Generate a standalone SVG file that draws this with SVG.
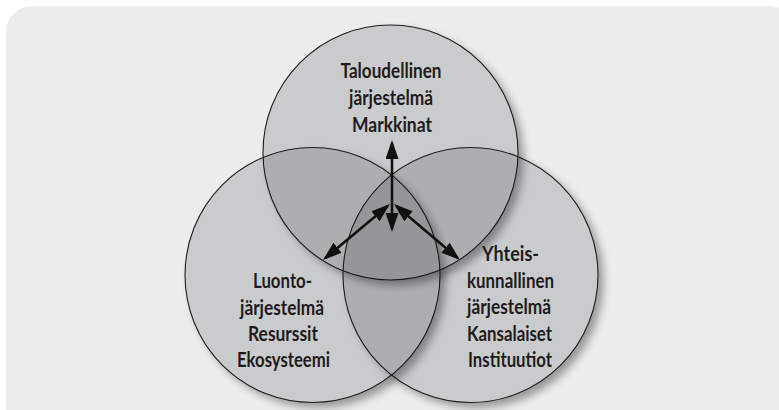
<svg xmlns="http://www.w3.org/2000/svg" width="779" height="410" viewBox="0 0 779 410">
  <style>
    .ring { fill: #0a0c14; fill-opacity: 0.15; stroke: #1d1d1f; stroke-width: 1.1; }
    .shade { fill: #000; fill-opacity: 0.36; filter: url(#soft); }
    .label { font-family: Lato, "Open Sans", "Liberation Sans", sans-serif; font-weight: bold; font-size: 20px; fill: #1f1b1c; text-anchor: middle; }
    .link { stroke: #111; stroke-width: 2.6; fill: none; marker-start: url(#head); marker-end: url(#head); }
  </style>
  <defs>
    <filter id="soft" x="-20%" y="-20%" width="140%" height="140%">
      <feGaussianBlur stdDeviation="4"/>
    </filter>
    <marker id="head" markerUnits="userSpaceOnUse" markerWidth="20" markerHeight="14" refX="16" refY="6.5" orient="auto-start-reverse">
      <path d="M0,0 L19,6.5 L0,13 z" fill="#111"/>
    </marker>
    <!-- each shadow is kept outside the disc that casts it -->
    <mask id="outTop" maskUnits="userSpaceOnUse" x="0" y="0" width="779" height="410">
      <rect width="779" height="410" fill="#fff"/>
      <circle cx="390.5" cy="152.5" r="127.5" fill="#000"/>
    </mask>
    <mask id="outLeft" maskUnits="userSpaceOnUse" x="0" y="0" width="779" height="410">
      <rect width="779" height="410" fill="#fff"/>
      <circle cx="312.5" cy="275" r="127.5" fill="#000"/>
    </mask>
    <mask id="outRight" maskUnits="userSpaceOnUse" x="0" y="0" width="779" height="410">
      <rect width="779" height="410" fill="#fff"/>
      <circle cx="470.5" cy="275" r="127.5" fill="#000"/>
    </mask>
  </defs>

  <!-- page and panel -->
  <rect width="779" height="410" fill="#fff"/>
  <rect x="6" y="6" width="790" height="430" rx="26" ry="26" fill="#ededed"/>

  <!-- drop shadows -->
  <g id="shadows">
    <circle class="shade" cx="396" cy="158" r="127.5" mask="url(#outTop)"/>
    <circle class="shade" cx="318" cy="280.5" r="127.5" mask="url(#outLeft)"/>
    <circle class="shade" cx="476" cy="280.5" r="127.5" mask="url(#outRight)"/>
  </g>

  <g id="economy">
    <circle class="ring" cx="390.5" cy="152.5" r="127.5"/>
    <text class="label" x="391" y="78" textLength="101" lengthAdjust="spacingAndGlyphs">Taloudellinen</text>
    <text class="label" x="391" y="105" textLength="84" lengthAdjust="spacingAndGlyphs">järjestelmä</text>
    <text class="label" x="392" y="132" textLength="80" lengthAdjust="spacingAndGlyphs">Markkinat</text>
  </g>

  <g id="nature">
    <circle class="ring" cx="312.5" cy="275" r="127.5"/>
    <text class="label" x="282.5" y="288" textLength="59" lengthAdjust="spacingAndGlyphs">Luonto-</text>
    <text class="label" x="282" y="315" textLength="84" lengthAdjust="spacingAndGlyphs">järjestelmä</text>
    <text class="label" x="283" y="341" textLength="70" lengthAdjust="spacingAndGlyphs">Resurssit</text>
    <text class="label" x="283.5" y="367" textLength="93" lengthAdjust="spacingAndGlyphs">Ekosysteemi</text>
  </g>

  <g id="society">
    <circle class="ring" cx="470.5" cy="275" r="127.5"/>
    <text class="label" x="510.5" y="261" textLength="57" lengthAdjust="spacingAndGlyphs">Yhteis-</text>
    <text class="label" x="510.5" y="287.5" textLength="87" lengthAdjust="spacingAndGlyphs">kunnallinen</text>
    <text class="label" x="509" y="314" textLength="84" lengthAdjust="spacingAndGlyphs">järjestelmä</text>
    <text class="label" x="509.5" y="340.5" textLength="85" lengthAdjust="spacingAndGlyphs">Kansalaiset</text>
    <text class="label" x="510" y="367" textLength="84" lengthAdjust="spacingAndGlyphs">Instituutiot</text>
  </g>

  <!-- two-way links between the three systems -->
  <g id="connectors">
    <line class="link" x1="392" y1="143" x2="392" y2="229"/>
    <line class="link" x1="387.7" y1="205.9" x2="325.3" y2="258.1"/>
    <line class="link" x1="396.3" y1="205.9" x2="457.7" y2="258.1"/>
  </g>
</svg>
